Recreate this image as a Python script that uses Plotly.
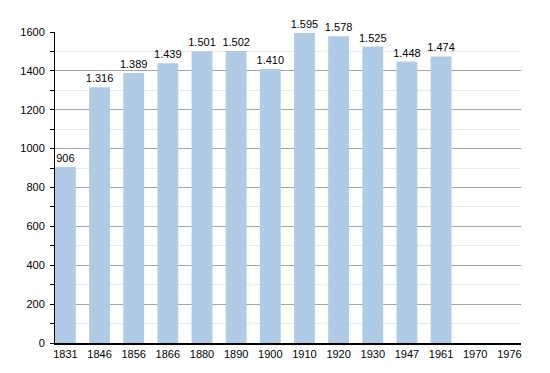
import plotly.graph_objects as go

years = ["1831", "1846", "1856", "1866", "1880", "1890", "1900", "1910", "1920", "1930", "1947", "1961", "1970", "1976"]
population = [906, 1316, 1389, 1439, 1501, 1502, 1410, 1595, 1578, 1525, 1448, 1474, None, None]
labels = [f"{v:,}".replace(",", ".") if v is not None else "" for v in population]

fig = go.Figure(go.Bar(
    x=years, y=population, text=labels, textposition="outside",
    cliponaxis=False, width=0.61, constraintext="none",
    marker=dict(color="rgb(176,203,230)", line=dict(width=0)),
    textfont=dict(family="Liberation Sans, Arial", size=11, color="black"),
))

# page body has an 8px margin, so the figure is sized 542x365
fig.update_layout(
    width=542, height=365,
    margin=dict(l=42, r=29, t=24, b=30),
    plot_bgcolor="white", paper_bgcolor="white",
    showlegend=False,
    font=dict(family="Liberation Sans, Arial", size=11, color="black"),
)
fig.update_xaxes(
    type="category", range=[-0.304, 13.34],
    showline=True, linecolor="black", linewidth=1.5,
    ticks="", showgrid=False, tickfont=dict(size=11),
)
fig.update_yaxes(
    range=[0, 1600], dtick=200, tick0=0,
    showline=True, linecolor="black", linewidth=1,
    ticks="outside", ticklen=4, tickcolor="black",
    ticklabelstandoff=3,
    showgrid=True, gridcolor="rgb(165,165,165)", gridwidth=1,
    zeroline=False,
    minor=dict(dtick=100, showgrid=True, gridcolor="rgb(232,232,232)", ticks="outside", ticklen=4, tickcolor="black"),
    tickfont=dict(size=11),
)

fig.write_html("out.html")
